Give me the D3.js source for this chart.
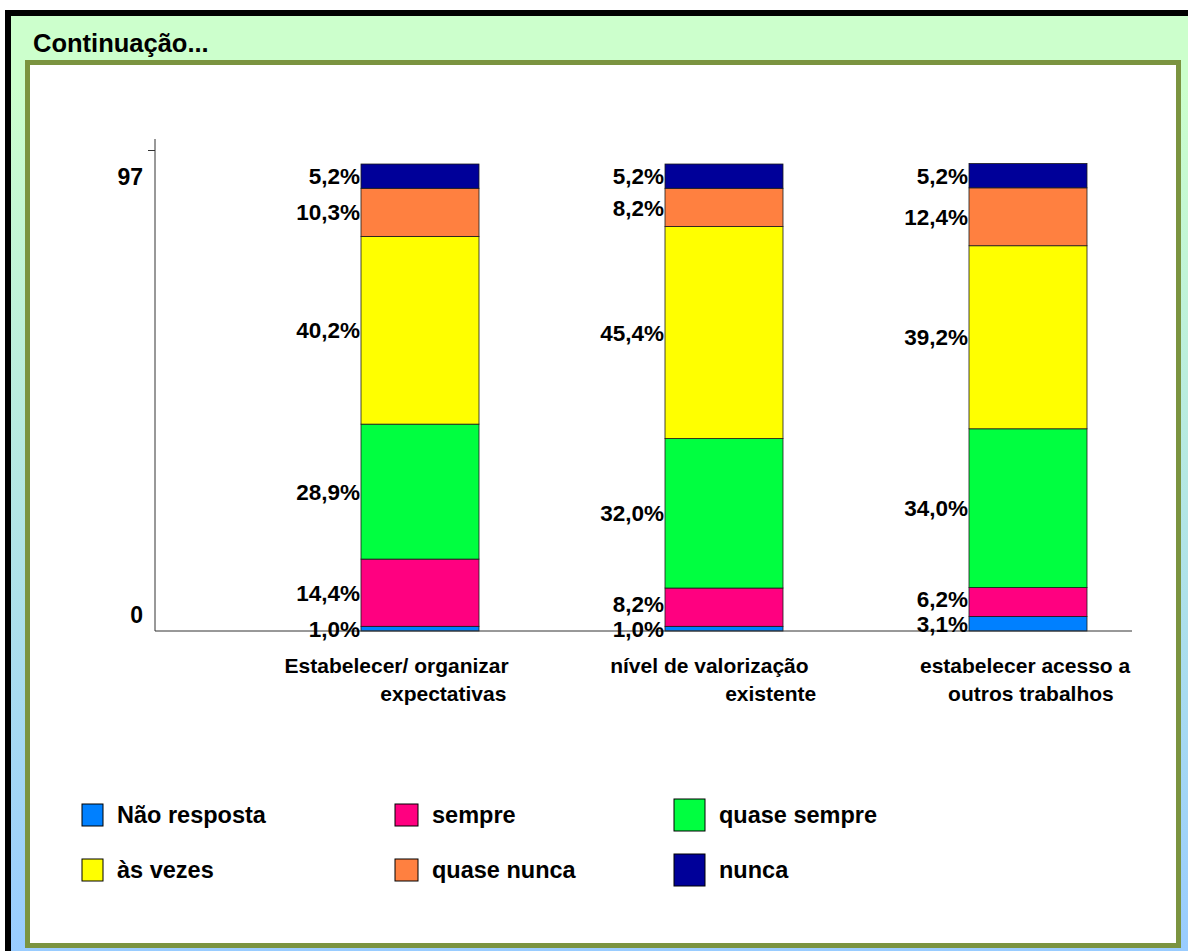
<!DOCTYPE html>
<html>
<head>
<meta charset="utf-8">
<script src="https://cdn.jsdelivr.net/npm/d3@7/dist/d3.min.js"></script>
<style>
  html, body { margin: 0; padding: 0; background: #ffffff; }
  svg { display: block; }
  text { font-family: "Liberation Sans", Arial, sans-serif; font-weight: bold; fill: #000; }
</style>
</head>
<body>
<script>
// ---- data ---------------------------------------------------------------
const categories = ["Estabelecer/ organizar expectativas", "nível de valorização existente", "estabelecer acesso a outros trabalhos"];
// category text as typed, one entry per wrapped line (spaces kept as in the source text)
const categoryLines = [
  ["Estabelecer/ organizar\u00A0\u00A0\u00A0\u00A0\u00A0\u00A0\u00A0\u00A0", "\u00A0\u00A0\u00A0\u00A0\u00A0\u00A0\u00A0\u00A0expectativas"],
  ["nível de valorização\u00A0\u00A0\u00A0\u00A0\u00A0", "\u00A0\u00A0\u00A0\u00A0\u00A0\u00A0\u00A0\u00A0\u00A0\u00A0\u00A0\u00A0\u00A0\u00A0\u00A0\u00A0existente"],
  ["estabelecer acesso a\u00A0", "\u00A0outros trabalhos"]
];
const seriesNames = ["Não resposta", "sempre", "quase sempre", "às vezes", "quase nunca", "nunca"];
const naoResposta = [1.0, 1.0, 3.1];
const sempre      = [14.4, 8.2, 6.2];
const quaseSempre = [28.9, 32.0, 34.0];
const asVezes     = [40.2, 45.4, 39.2];
const quaseNunca  = [10.3, 8.2, 12.4];
const nunca       = [5.2, 5.2, 5.2];
const seriesValues = [naoResposta, sempre, quaseSempre, asVezes, quaseNunca, nunca];
const yTickLabels = ["0", "97"];
const yAxisTop = 103; // percent reached at the top of the value axis

const seriesColors = ["#0080FF", "#FF0080", "#00FF40", "#FFFF00", "#FF8040", "#000099"];

// ---- layout -------------------------------------------------------------
const W = 1188, H = 951;
const plot = { left: 155, right: 1132, top: 150, bottom: 631 };
const barWidth = 118;
const labelFont = 22.5;
const labelMinGap = 25; // smallest vertical distance between two value labels of one bar

const svg = d3.select("body").append("svg").attr("width", W).attr("height", H);

// page background and framed panel
const defs = svg.append("defs");
const grad = defs.append("linearGradient").attr("id", "bgGrad")
  .attr("x1", 0).attr("y1", 0).attr("x2", 0).attr("y2", 1);
grad.append("stop").attr("offset", "0").attr("stop-color", "#CCFFCC");
grad.append("stop").attr("offset", "0.08").attr("stop-color", "#CCFFCC");
grad.append("stop").attr("offset", "1").attr("stop-color", "#99CCFF");

svg.append("rect").attr("x", 5).attr("y", 10).attr("width", W - 5).attr("height", H - 10)
  .attr("fill", "url(#bgGrad)");
svg.append("rect").attr("x", 5).attr("y", 10).attr("width", W - 5).attr("height", 6).attr("fill", "#000");
svg.append("rect").attr("x", 5).attr("y", 10).attr("width", 6).attr("height", H - 10).attr("fill", "#000");

svg.append("text").attr("x", 33).attr("y", 52).attr("font-size", 25.5).text("Continuação...");

svg.append("rect").attr("x", 27.5).attr("y", 62.5).attr("width", 1151).attr("height", 883)
  .attr("fill", "#ffffff").attr("stroke", "#7B9440").attr("stroke-width", 5);

// ---- scales -------------------------------------------------------------
const x = d3.scaleBand().domain(categories).range([268, 1180])
  .paddingInner(0.612).paddingOuter(0.306);
const y = d3.scaleLinear().domain([0, yAxisTop]).range([plot.bottom, plot.top]);
const barX = c => x(c) + (x.bandwidth() - barWidth) / 2;

// ---- stacked bars -------------------------------------------------------
const rows = categories.map((c, i) => {
  const r = { category: c };
  seriesNames.forEach((s, k) => { r[s] = seriesValues[k][i]; });
  return r;
});
const stacked = d3.stack().keys(seriesNames)(rows);

const layers = svg.append("g").selectAll("g").data(stacked).join("g")
  .attr("fill", (d, i) => seriesColors[i]);

layers.selectAll("rect").data(d => d).join("rect")
  .attr("x", d => barX(d.data.category))
  .attr("width", barWidth)
  .attr("y", d => y(d[1]))
  .attr("height", d => y(d[0]) - y(d[1]))
  .attr("stroke", "#1a1a1a").attr("stroke-width", 0.8);

// ---- axes ---------------------------------------------------------------
const yAxis = d3.axisLeft(y).tickValues([0, yAxisTop])
  .tickFormat((d, i) => yTickLabels[i]).tickSize(7).tickSizeOuter(0).tickPadding(5);
const gy = svg.append("g").attr("transform", `translate(${plot.left},0)`).call(yAxis);
gy.select(".domain").remove();
gy.selectAll(".tick line").attr("stroke", "#333").filter(d => d === 0).remove();
gy.selectAll(".tick text")
  .attr("font-size", 23).attr("font-family", null)
  .attr("dy", d => d === 0 ? "-0.35em" : "1.48em");
gy.append("line").attr("x1", 0).attr("x2", 0)
  .attr("y1", y(0)).attr("y2", y(yAxisTop) - 11)
  .attr("stroke", "#333").attr("stroke-width", 1);

svg.append("line").attr("x1", plot.left).attr("x2", plot.right)
  .attr("y1", y(0)).attr("y2", y(0))
  .attr("stroke", "#333").attr("stroke-width", 1);

// category labels
const catG = svg.append("g").selectAll("text").data(categories).join("text")
  .attr("font-size", 21).attr("text-anchor", "middle")
  .style("white-space", "pre");
catG.selectAll("tspan").data((c, i) => categoryLines[i].map(t => ({ t, c }))).join("tspan")
  .attr("x", d => x(d.c) + x.bandwidth() / 2)
  .attr("y", (d, j) => 673 + j * 28)
  .text(d => d.t);

// ---- value labels -------------------------------------------------------
// one label per segment, centred on it, lifted where it would collide with the label below
const fmt = v => v.toFixed(1).replace(".", ",") + "%";
const labels = [];
categories.forEach((c, i) => {
  let prev = Infinity;
  stacked.forEach(layer => {
    const d = layer[i];
    const cy = Math.min((y(d[0]) + y(d[1])) / 2, prev - labelMinGap);
    prev = cy;
    labels.push({ c, cy, text: fmt(d[1] - d[0]) });
  });
});
svg.append("g").selectAll("text").data(labels).join("text")
  .attr("font-size", labelFont).attr("text-anchor", "end")
  .attr("x", d => barX(d.c) - 1)
  .attr("y", d => d.cy)
  .attr("dy", "0.36em")
  .text(d => d.text);

// ---- legend -------------------------------------------------------------
const legendCols = [82, 395, 674];
const legendRows = [815, 870];
const swatchSize = [[21, 22], [23, 22], [31, 32]];
const legend = svg.append("g").selectAll("g").data(seriesNames).join("g")
  .attr("transform", (d, i) => `translate(${legendCols[i % 3]},${legendRows[Math.floor(i / 3)]})`);
legend.append("rect")
  .attr("x", 0)
  .attr("y", (d, i) => -swatchSize[i % 3][1] / 2)
  .attr("width", (d, i) => swatchSize[i % 3][0])
  .attr("height", (d, i) => swatchSize[i % 3][1])
  .attr("fill", (d, i) => seriesColors[i])
  .attr("stroke", "#000").attr("stroke-width", 1);
legend.append("text")
  .attr("x", (d, i) => swatchSize[i % 3][0] + 14)
  .attr("y", 0).attr("dy", "0.36em")
  .attr("font-size", 23.5)
  .text(d => d);
</script>
</body>
</html>
